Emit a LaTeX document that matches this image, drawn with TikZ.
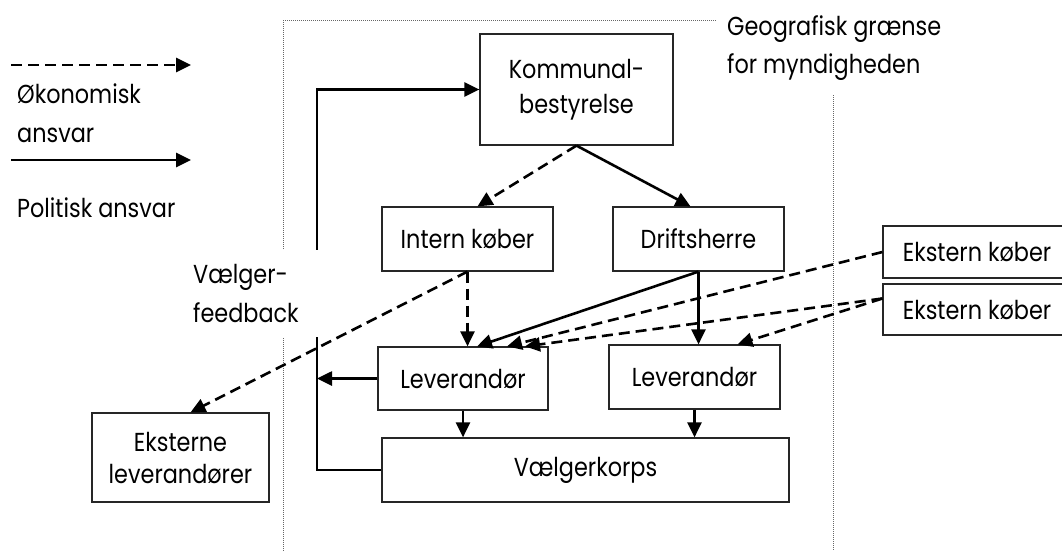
\documentclass[tikz,border=0pt]{standalone}
\usepackage{fontspec}
\setmainfont{Poppins}[FakeStretch=0.86]
\usetikzlibrary{arrows.meta}

\begin{document}
\begin{tikzpicture}[x=1pt, y=-1pt,
	box/.style={draw=black!85, line width=1.2pt, fill=white, inner sep=0pt, align=center, font=\fontsize{26}{35}\selectfont},
	lbl/.style={inner sep=0pt, align=left, font=\fontsize{26}{39}\selectfont},
	pol/.style={line width=2.6pt, -{Triangle[length=15pt, width=14pt]}},
	oek/.style={pol, dash pattern=on 11pt off 6pt},
	frame/.style={black!60, line width=1pt, dash pattern=on 1pt off 1pt}]
			\useasboundingbox (0, 0) rectangle (1062, 551);
			\clip (0, 0) rectangle (1062, 551);
			% Boundary, boxes, arrows and labels:
			\draw[frame] (283, 551) -- (283, 21) -- (717, 21);
			\draw[frame] (833, 95) -- (833, 551);
			\node[box, minimum width=193, minimum height=111](kb) at (576.5, 89.5){Kommunal-\\bestyrelse};
			\node[box, minimum width=171, minimum height=64](ik) at (467.5, 239){Intern køber};
			\node[box, minimum width=171, minimum height=64](ds) at (698.5, 239){Driftsherre};
			\node[box, minimum width=170, minimum height=63](lv1) at (463, 378.5){Leverandør};
			\node[box, minimum width=171, minimum height=64](lv2) at (694.5, 377){Leverandør};
			\node[box, minimum width=407, minimum height=64](vk) at (585.5, 470){Vælgerkorps};
			\node[box, minimum width=177, minimum height=89](el) at (180.5, 457.5){Eksterne\\[-3pt]leverandører};
			\node[box, minimum width=188, minimum height=52](ek1) at (977, 252){Ekstern køber};
			\node[box, minimum width=188, minimum height=51](ek2) at (977, 309.5){Ekstern køber};
			\draw[oek] (kb.south) -- ([xshift=10]ik.north);
			\draw[pol] (kb.south) -- ([xshift=-8]ds.north);
			\draw[oek] (ik.south) -- (ik.south |- lv1.north);
			\draw[oek] (ik.south) -- ([xshift=10]el.north);
			\draw[pol] (ds.south) -- ([xshift=14]lv1.north);
			\draw[pol] (ds.south) -- (ds.south |- lv2.north);
			\draw[oek] (ek1.west) -- ([xshift=44]lv1.north);
			\draw[oek] ([yshift=11]ek2.west) -- ([xshift=62]lv1.north);
			\draw[oek] ([yshift=11]ek2.west) -- ([xshift=43]lv2.north);
			\draw[pol] (lv1.south) -- (lv1.south |- vk.north);
			\draw[pol] (lv2.south) -- (lv2.south |- vk.north);
			\coordinate (fb) at (317, 0);
			\draw[pol] (lv1.west) -- (fb |- lv1.west);
			\draw[pol] (vk.west) -| (fb |- kb.west) -- (kb.west);
			\node[lbl, fill=white, anchor=north west, inner xsep=5pt, text width=125, minimum height=87](fbtxt) at (188, 250){Vælger-\\feedback};
			\node[lbl, anchor=north west](grtxt) at (727, 15){Geografisk grænse\\[-1pt]for myndigheden};
			% Legend:
			\coordinate (oa) at (11, 65);
			\coordinate (ob) at (191, 65);
			\draw[oek] (oa) -- (ob);
			\coordinate (pa) at (11, 160);
			\coordinate (pb) at (191, 160);
			\draw[pol] (pa) -- (pb);
			\node[lbl, anchor=north west](oektxt) at (17, 84){Økonomisk\\ansvar};
			\node[lbl, anchor=base west](poltxt) at (17, 217){Politisk ansvar};
		\end{tikzpicture}
\end{document}
